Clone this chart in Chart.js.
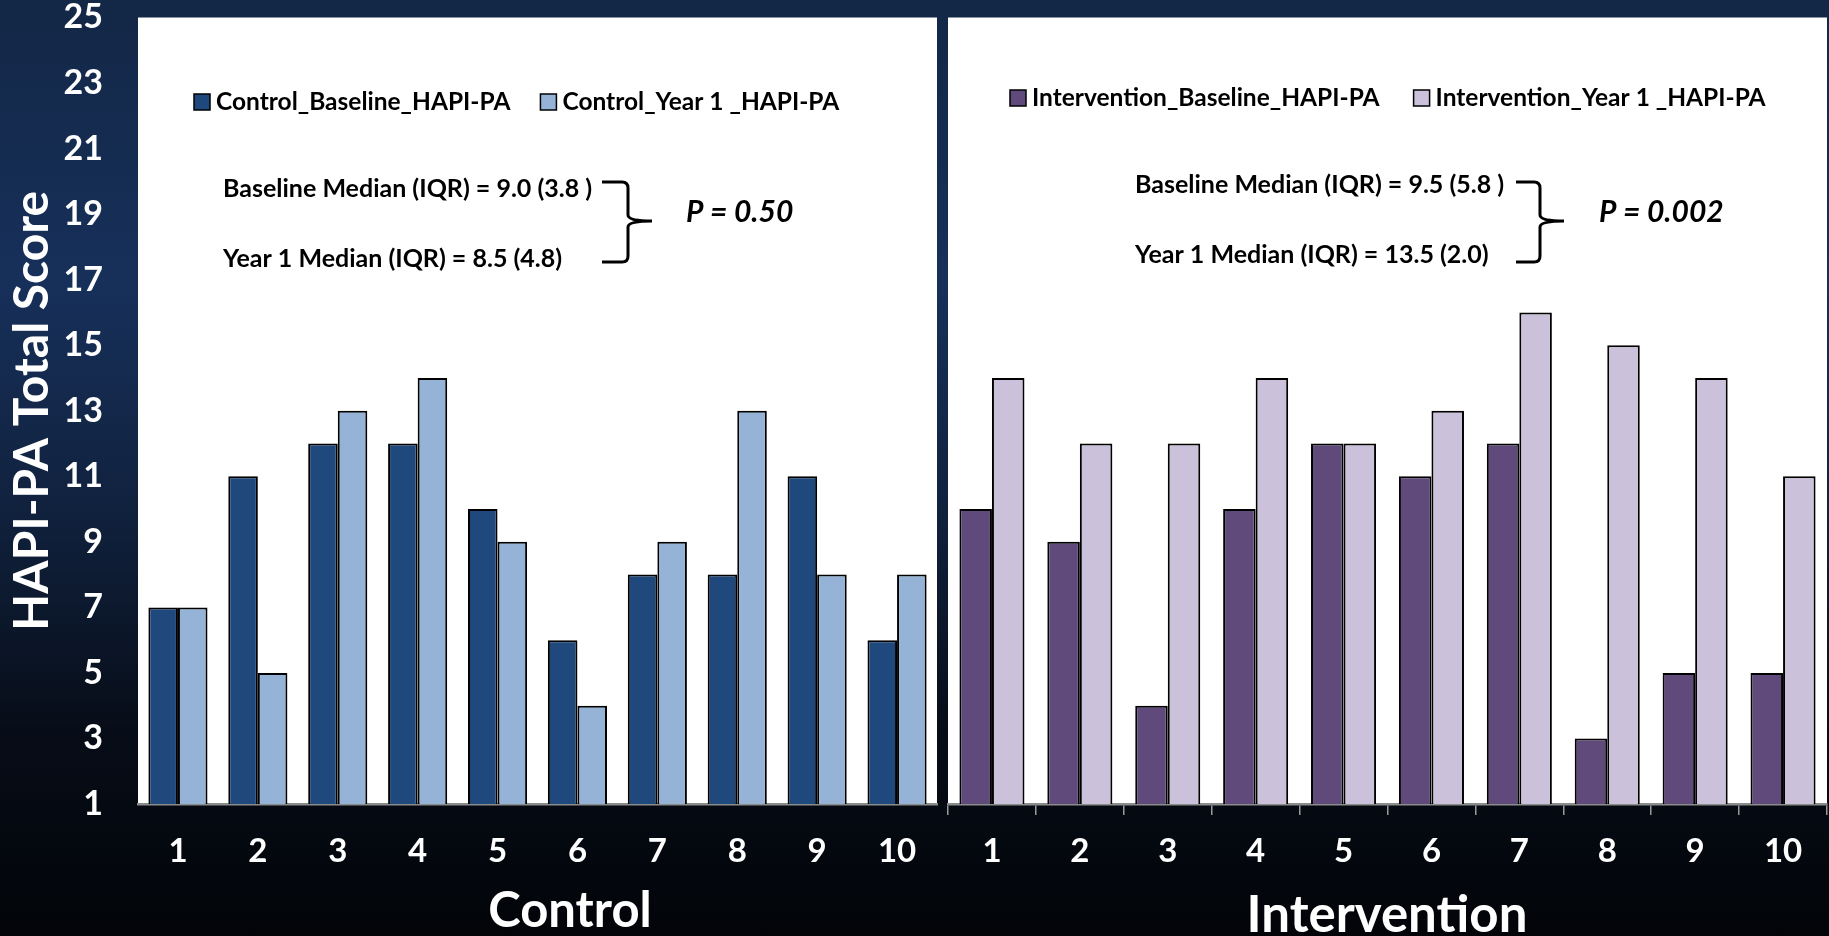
<!DOCTYPE html>
<html lang="en">
<head>
<meta charset="UTF-8" />
<title>HAPI-PA Total Score: Control vs Intervention</title>
<script src="https://cdn.jsdelivr.net/npm/chart.js"></script>
<style>
  html, body {
    margin: 0;
    padding: 0;
    width: 1829px;
    height: 936px;
    overflow: hidden;
  }
  body {
    background: linear-gradient(to bottom, #132746 0%, #17305a 30%, #10213d 55%, #070d18 78%, #020408 100%);
  }
  .panel {
    position: absolute;
    top: 0;
    height: 936px;
  }
  #leftBox { left: 0; width: 942px; }
  #rightBox { left: 942px; width: 887px; }
</style>
</head>
<body>

<div class="panel" id="leftBox"><canvas id="chartControl"></canvas></div>
<div class="panel" id="rightBox"><canvas id="chartIntervention"></canvas></div>

<script>
  // data
  const categories = ['1', '2', '3', '4', '5', '6', '7', '8', '9', '10'];
  const controlBaseline = [7, 11, 12, 12, 10, 6, 8, 8, 11, 6];
  const controlYear1 = [7, 5, 13, 14, 9, 4, 9, 13, 8, 8];
  const interventionBaseline = [10, 9, 4, 10, 12, 11, 12, 3, 5, 5];
  const interventionYear1 = [14, 12, 12, 14, 12, 13, 16, 15, 14, 11];

  const yMin = 1;
  const yMax = 25;
  const yStep = 2;

  const controlNotes = ['Baseline Median (IQR) = 9.0 (3.8 )', 'Year 1 Median (IQR) = 8.5 (4.8)'];
  const controlP = 'P = 0.50';
  const interventionNotes = ['Baseline Median (IQR) = 9.5 (5.8 )', 'Year 1 Median (IQR) = 13.5 (2.0)'];
  const interventionP = 'P = 0.002';

  const FONT = "Lato, 'Open Sans', sans-serif";

  // white plot area, legend, median notes and group title
  const panelPlugin = {
    id: 'panel',
    beforeDraw(chart, args, opts) {
      const {ctx, chartArea: a} = chart;
      ctx.save();
      ctx.fillStyle = '#ffffff';
      ctx.fillRect(a.left, a.top, a.right - a.left, a.bottom - a.top);
      ctx.restore();
    },
    afterDraw(chart, args, opts) {
      const ctx = chart.ctx;
      ctx.save();
      // legend
      ctx.font = 'bold 24.5px ' + FONT;
      ctx.textBaseline = 'alphabetic';
      let x = opts.legendX;
      chart.data.datasets.forEach(ds => {
        ctx.fillStyle = ds.backgroundColor;
        ctx.fillRect(x, opts.legendY - 16, 16, 16);
        ctx.strokeStyle = '#000';
        ctx.lineWidth = 1.5;
        ctx.strokeRect(x, opts.legendY - 16, 16, 16);
        ctx.fillStyle = '#000';
        ctx.fillText(ds.label, x + 22, opts.legendY);
        x += 22 + ctx.measureText(ds.label).width + opts.legendGap;
      });

      // median lines
      ctx.font = 'bold 25px ' + FONT;
      ctx.fillText(opts.notes[0], opts.noteX, opts.noteY[0]);
      ctx.fillText(opts.notes[1], opts.noteX, opts.noteY[1]);

      // curly brace
      const b = opts.brace;
      const r = 6;
      ctx.strokeStyle = '#000';
      ctx.lineWidth = 3;
      ctx.beginPath();
      ctx.moveTo(b.x0, b.top);
      ctx.lineTo(b.xv - r, b.top);
      ctx.quadraticCurveTo(b.xv, b.top, b.xv, b.top + r);
      ctx.lineTo(b.xv, b.mid - r);
      ctx.quadraticCurveTo(b.xv, b.mid, b.xt, b.mid);
      ctx.moveTo(b.xt, b.mid);
      ctx.quadraticCurveTo(b.xv, b.mid, b.xv, b.mid + r);
      ctx.lineTo(b.xv, b.bottom - r);
      ctx.quadraticCurveTo(b.xv, b.bottom, b.xv - r, b.bottom);
      ctx.lineTo(b.x0, b.bottom);
      ctx.stroke();

      // p value
      ctx.font = 'italic bold 30px ' + FONT;
      ctx.fillText(opts.pText, opts.pX, opts.pY);

      // group title under the axis
      ctx.font = 'bold ' + opts.titleSize + 'px ' + FONT;
      ctx.fillStyle = '#ffffff';
      ctx.textAlign = 'center';
      ctx.textBaseline = 'middle';
      ctx.fillText(opts.title, opts.titleX, opts.titleY);
      ctx.restore();
    }
  };

  function barSet(label, data, color) {
    return {
      label: label,
      data: data,
      backgroundColor: color,
      borderColor: '#000000',
      borderWidth: 2,
      categoryPercentage: 0.74,
      barPercentage: 1.0
    };
  }

  const tickFont = {family: FONT, size: 33, weight: 'bold'};
  const hidden = 'rgba(0,0,0,0)';

  // Control chart (carries the y axis)
  new Chart(document.getElementById('chartControl'), {
    type: 'bar',
    data: {
      labels: categories,
      datasets: [
        barSet('Control_Baseline_HAPI-PA', controlBaseline, '#1f497d'),
        barSet('Control_Year 1 _HAPI-PA', controlYear1, '#95b3d7')
      ]
    },
    options: {
      responsive: true,
      maintainAspectRatio: false,
      animation: false,
      layout: {padding: {left: 0, right: 5, top: 17.5, bottom: 0}},
      plugins: {
        legend: {display: false},
        tooltip: {enabled: false},
        panel: {
          legendX: 194, legendY: 110, legendGap: 30,
          notes: controlNotes, noteX: 223, noteY: [197, 267],
          brace: {x0: 602, xv: 628, xt: 652, top: 182, mid: 221, bottom: 262},
          pText: controlP, pX: 686, pY: 222,
          title: 'Control', titleX: 570, titleY: 911, titleSize: 49
        }
      },
      scales: {
        x: {
          grid: {display: true, drawOnChartArea: false, drawTicks: true, tickLength: 28, color: hidden},
          border: {display: true, color: '#8c8c8c', width: 2.5},
          ticks: {color: '#ffffff', font: tickFont, padding: 0, maxRotation: 0},
          afterFit(scale) { scale.height = 132; }
        },
        y: {
          min: yMin, max: yMax,
          grid: {display: true, drawOnChartArea: false, drawTicks: true, tickLength: 35, color: hidden},
          border: {display: false},
          ticks: {stepSize: yStep, color: '#ffffff', font: {family: FONT, size: 34, weight: 'bold', lineHeight: 1}, padding: 0},
          title: {
            display: true, text: 'HAPI-PA Total Score', color: '#ffffff',
            font: {family: FONT, size: 48, weight: 'bold', lineHeight: 1},
            padding: {top: 9, bottom: 0}
          },
          afterFit(scale) { scale.width = 138; }
        }
      }
    },
    plugins: [panelPlugin]
  });

  // Intervention chart
  new Chart(document.getElementById('chartIntervention'), {
    type: 'bar',
    data: {
      labels: categories,
      datasets: [
        barSet('Intervention_Baseline_HAPI-PA', interventionBaseline, '#604a7b'),
        barSet('Intervention_Year 1 _HAPI-PA', interventionYear1, '#ccc1da')
      ]
    },
    options: {
      responsive: true,
      maintainAspectRatio: false,
      animation: false,
      layout: {padding: {left: 6, right: 2, top: 17.5, bottom: 0}},
      plugins: {
        legend: {display: false},
        tooltip: {enabled: false},
        panel: {
          legendX: 68, legendY: 106, legendGap: 34,
          notes: interventionNotes, noteX: 193, noteY: [193, 263],
          brace: {x0: 574, xv: 598, xt: 622, top: 182, mid: 221, bottom: 262},
          pText: interventionP, pX: 657, pY: 222,
          title: 'Intervention', titleX: 445, titleY: 916, titleSize: 51
        }
      },
      scales: {
        x: {
          grid: {display: true, drawOnChartArea: false, drawTicks: true, tickLength: 11, color: '#9a9a9a', lineWidth: 1.5},
          border: {display: true, color: '#8c8c8c', width: 2.5},
          ticks: {color: '#ffffff', font: tickFont, padding: 17, maxRotation: 0},
          afterFit(scale) { scale.height = 132; }
        },
        y: {
          display: false,
          min: yMin, max: yMax,
          ticks: {stepSize: yStep}
        }
      }
    },
    plugins: [panelPlugin]
  });
</script>

</body>
</html>
